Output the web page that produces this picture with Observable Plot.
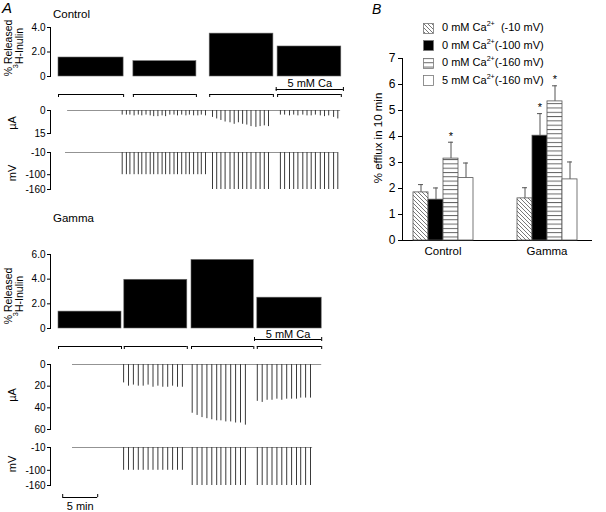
<!DOCTYPE html>
<html><head><meta charset="utf-8">
<script src="https://cdn.jsdelivr.net/npm/d3@7"></script>
<script src="https://cdn.jsdelivr.net/npm/@observablehq/plot@0.6"></script>
<style>
body{margin:0;background:#fff;font-family:"Liberation Sans",Arial,Helvetica,sans-serif;}
#chart{position:relative;width:606px;height:512px;overflow:hidden;background:#fff;}
.lbl{position:absolute;white-space:nowrap;line-height:1;color:#000;}
.rot{position:absolute;white-space:nowrap;text-align:center;line-height:1.05;color:#000;transform:translate(-50%,-50%) rotate(-90deg);}
sup{font-size:65%;vertical-align:super;line-height:0;}
</style></head><body>
<svg width="0" height="0" style="position:absolute"><defs>
<pattern id="hatch" patternUnits="userSpaceOnUse" width="4" height="4"><rect width="4" height="4" fill="#fff"/><path d="M-1,-1L5,5M3,-1L5,1M-1,3L1,5" stroke="#555" stroke-width="0.8"/></pattern>
<pattern id="hstripe" patternUnits="userSpaceOnUse" width="4" height="4.3"><rect width="4" height="4.3" fill="#fff"/><line x1="0" y1="0.5" x2="4" y2="0.5" stroke="#555" stroke-width="0.9"/></pattern>
</defs></svg>
<div id="chart"></div>
<script>
// ===== Panel A : Control (times in minutes) =====
const ctrlPeriodStart = [0, 10.7, 21.6, 31.3];
const ctrlPeriodEnd   = [9.3, 19.7, 30.7, 40.4];
const ctrlReleased    = [1.55, 1.25, 3.5, 2.45];
const ctrlCaSpan      = [31.1, 40.7];
const ctrlCurrentSpan = [1.3, 40.3];
const ctrlVoltageSpan = [1.0, 39.9];
const ctrlPulseTimes = [
  [9.1, 9.7, 10.2, 10.8, 11.4, 11.9, 12.5, 13.1, 13.6, 14.2, 14.8, 15.3, 15.9, 16.5, 17.0, 17.6, 18.2, 18.7, 19.3, 19.9, 20.4, 21.0],
  [22.0, 22.6, 23.2, 23.8, 24.5, 25.1, 25.7, 26.3, 26.9, 27.5, 28.2, 28.8, 29.4, 30.0],
  [31.7, 32.3, 33.0, 33.6, 34.2, 34.9, 35.5, 36.1, 36.7, 37.4, 38.0, 38.6, 39.3, 39.9]
];
const ctrlPulseCurrent = [
  [3, 3, 3, 3.5, 3, 3.5, 3, 3.5, 4, 4, 3.5, 4, 3, 3, 3.5, 3, 3.5, 3, 3.5, 3.5, 3, 3.5],
  [4.5, 5.5, 6.5, 7.5, 8, 9, 8, 9, 9.5, 10.5, 11, 10.5, 10, 10.5],
  [3, 3, 3.5, 3, 3.5, 3, 3.5, 3.5, 3, 3.5, 4, 3.5, 4.5, 5.5]
];

// ===== Panel A : Gamma =====
const gamPeriodStart = [0, 9.4, 19.0, 28.4];
const gamPeriodEnd   = [9.0, 18.4, 27.9, 37.6];
const gamReleased    = [1.37, 3.95, 5.56, 2.5];
const gamCaSpan      = [28.0, 37.6];
const gamCurrentSpan = [2.0, 37.6];
const gamVoltageSpan = [2.0, 36.3];
const gamPulseTimes = [
  [9.3, 10.0, 10.7, 11.4, 12.1, 12.8, 13.5, 14.2, 14.9, 15.6, 16.3, 17.0, 17.7],
  [19.1, 19.8, 20.5, 21.2, 21.9, 22.6, 23.2, 23.9, 24.6, 25.3, 26.0, 26.7],
  [28.4, 29.1, 29.8, 30.5, 31.2, 31.9, 32.6, 33.3, 34.0, 34.6, 35.3, 36.0]
];
const gamPulseCurrent = [
  [17, 20, 19, 20, 20, 19, 21, 20, 21, 21, 20, 21, 21],
  [45, 47, 49, 50, 51, 52, 52, 53, 53, 54, 54, 56],
  [34, 35, 33, 33, 32, 33, 32, 32, 32, 31, 31, 31]
];

const holdingMV = [-100, -160, -160];
const restingMV = -10;
const ctrlReleasedTicks = [0, 2, 4];
const gamReleasedTicks = [0, 2, 4, 6];
const ctrlCurrentTicks = [0, 15];
const gamCurrentTicks = [0, 20, 40, 60];
const voltageTicks = [-10, -100, -160];
const scaleBarStart = 0.6;
const scaleBarMinutes = 5;

// ===== Panel B =====
const groups = ["Control", "Gamma"];
const condCa = ["0 mM", "0 mM", "0 mM", "5 mM"];
const condMV = ["-10 mV", "-100 mV", "-160 mV", "-160 mV"];
const effluxControl = [1.85, 1.57, 3.15, 2.4];
const effluxGamma   = [1.62, 4.03, 5.35, 2.35];
const semControl = [0.30, 0.45, 0.63, 0.58];
const semGamma   = [0.41, 0.85, 0.60, 0.67];
const sigControl = [false, false, true, false];
const sigGamma   = [false, true, true, false];
const effluxTicks = [0, 1, 2, 3, 4, 5, 6, 7];

// ---------- build ----------
const W = 606, H = 512;
const FONT = '"Liberation Sans", Arial, Helvetica, sans-serif';
const fills = ["url(#hatch)", "#000", "url(#hstripe)", "#fff"];
const chart = document.getElementById("chart");
const svgStyle = fs => ({position: "absolute", left: "0px", top: "0px", background: "transparent",
  overflow: "visible", fontFamily: FONT, fontSize: fs + "px", color: "#000"});
const xTime = {domain: [0, 42], range: [58, 352], axis: null};

function strip(top, bottom, y, marks) {
  const p = Plot.plot({width: W, height: H, marginLeft: 50, marginRight: 254,
    marginTop: top, marginBottom: H - bottom, x: xTime, y, style: svgStyle(10), marks});
  chart.appendChild(p);
}
const periodsOf = (s, e, r) => s.map((v, i) => ({start: v, end: e[i], released: r[i]}));
const pulsesOf = (times, cur) => times.flatMap((ts, s) => ts.map((t, i) => ({t, current: cur[s][i], hold: holdingMV[s]})));
const zero = () => 0;
const fmt1 = d => d === 0 ? "0" : d.toFixed(1);

function releasedStrip(periods, caSpan, top, bottom, ticks, caTextDy, caDy) {
  strip(top, bottom, {domain: [0, ticks[ticks.length - 1]]}, [
    Plot.rectY(periods, {x1: "start", x2: "end", y: "released", fill: "#000", stroke: "#666", strokeWidth: 0.6}),
    Plot.frame({anchor: "left"}),
    Plot.axisY(ticks, {tickSize: 3, tickPadding: 2, tickFormat: fmt1, label: null}),
    Plot.ruleY(periods, {x1: "start", x2: "end", y: zero, dy: 18, strokeWidth: 1}),
    Plot.ruleX(periods, {x: "start", y1: zero, y2: zero, dy: 18, insetBottom: -3}),
    Plot.ruleX(periods, {x: "end", y1: zero, y2: zero, dy: 18, insetBottom: -3}),
    Plot.ruleY([caSpan], {x1: d => d[0], x2: d => d[1], y: zero, dy: caDy}),
    Plot.ruleX(caSpan, {x: d => d, y1: zero, y2: zero, dy: caDy, insetTop: -2, insetBottom: -2}),
    Plot.text([caSpan], {x: d => (d[0] + d[1]) / 2, y: zero, dy: caTextDy, text: () => "5 mM Ca", fontSize: 11})
  ]);
}
function currentStrip(pulses, span, top, bottom, ticks) {
  strip(top, bottom, {domain: [0, ticks[ticks.length - 1]], reverse: true}, [
    Plot.ruleY([span], {x1: d => d[0], x2: d => d[1], y: zero, stroke: "#777", strokeWidth: 0.8}),
    Plot.ruleX(pulses, {x: "t", y1: zero, y2: "current", stroke: "#3a3a3a", strokeWidth: 1}),
    Plot.frame({anchor: "left"}),
    Plot.axisY(ticks, {tickSize: 3, tickPadding: 2, tickFormat: d => String(d), label: null})
  ]);
}
function voltageStrip(pulses, span, top, bottom, extra = []) {
  strip(top, bottom, {domain: [-160, -10]}, [
    Plot.ruleY([span], {x1: d => d[0], x2: d => d[1], y: () => restingMV, stroke: "#777", strokeWidth: 0.8}),
    Plot.ruleX(pulses, {x: "t", y1: () => restingMV, y2: "hold", stroke: "#3a3a3a", strokeWidth: 1}),
    Plot.frame({anchor: "left"}),
    Plot.axisY(voltageTicks, {tickSize: 3, tickPadding: 2, tickFormat: d => String(d), label: null}),
    ...extra
  ]);
}

releasedStrip(periodsOf(ctrlPeriodStart, ctrlPeriodEnd, ctrlReleased), ctrlCaSpan, 27, 76, ctrlReleasedTicks, 7, 13);
currentStrip(pulsesOf(ctrlPulseTimes, ctrlPulseCurrent), ctrlCurrentSpan, 110, 133, ctrlCurrentTicks);
voltageStrip(pulsesOf(ctrlPulseTimes, ctrlPulseCurrent), ctrlVoltageSpan, 152, 189);

releasedStrip(periodsOf(gamPeriodStart, gamPeriodEnd, gamReleased), gamCaSpan, 254, 328, gamReleasedTicks, 6, 11);
currentStrip(pulsesOf(gamPulseTimes, gamPulseCurrent), gamCurrentSpan, 364, 429, gamCurrentTicks);
const bar = [{start: scaleBarStart, end: scaleBarStart + scaleBarMinutes}];
voltageStrip(pulsesOf(gamPulseTimes, gamPulseCurrent), gamVoltageSpan, 447, 485, [
  Plot.ruleY(bar, {x1: "start", x2: "end", y: () => -160, dy: 12}),
  Plot.ruleX(bar, {x: "start", y1: () => -160, y2: () => -160, dy: 12, insetTop: -3}),
  Plot.ruleX(bar, {x: "end", y1: () => -160, y2: () => -160, dy: 12, insetTop: -3}),
  Plot.text(bar, {x: d => (d.start + d.end) / 2, y: () => -160, dy: 21, text: () => scaleBarMinutes + " min", fontSize: 11})
]);

// Panel B axes
chart.appendChild(Plot.plot({width: W, height: H, marginLeft: 402, marginRight: 14, marginTop: 58, marginBottom: H - 240,
  y: {domain: [0, 7]}, style: svgStyle(12), marks: [
    Plot.frame({anchor: "left"}),
    Plot.ruleY([0]),
    Plot.axisY(effluxTicks, {tickSize: 4, tickPadding: 3, label: null})
  ]}));

// Panel B bars
const bData = [];
groups.forEach((g, gi) => {
  const v = gi === 0 ? effluxControl : effluxGamma, s = gi === 0 ? semControl : semGamma, sig = gi === 0 ? sigControl : sigGamma;
  condMV.forEach((mv, i) => bData.push({group: g, cond: i, value: v[i], top: v[i] + s[i], sig: sig[i]}));
});
chart.appendChild(Plot.plot({width: W, height: H, marginLeft: 402, marginRight: 18.5, marginTop: 58, marginBottom: H - 240,
  fx: {domain: groups, paddingInner: 0.416, paddingOuter: 0.0957, label: null},
  x: {domain: [0, 1, 2, 3], padding: 0, axis: null},
  y: {domain: [0, 7], axis: null},
  color: {type: "ordinal", domain: [0, 1, 2, 3], range: fills},
  style: svgStyle(11.5), marks: [
    Plot.ruleX(bData, {fx: "group", x: "cond", y1: "value", y2: "top", stroke: "#555", strokeWidth: 1}),
    Plot.tickY(bData, {fx: "group", x: "cond", y: "top", insetLeft: 5, insetRight: 5, stroke: "#555", strokeWidth: 1}),
    Plot.barY(bData, {fx: "group", x: "cond", y: "value", fill: "cond", stroke: "#555", strokeWidth: 0.8}),
    Plot.text(bData.filter(d => d.sig), {fx: "group", x: "cond", y: "top", text: () => "*", dy: -6, fontSize: 11}),
    Plot.axisFx({anchor: "bottom", tickSize: 0, tickPadding: 6, label: null})
  ]}));

// ---------- HTML text ----------
function lbl(html, x, y, fs, extra = "") {
  const d = document.createElement("div");
  d.className = "lbl"; d.innerHTML = html;
  d.style.cssText += `left:${x}px;top:${y}px;font-size:${fs}px;${extra}`;
  chart.appendChild(d);
}
function rot(html, cx, cy, fs) {
  const d = document.createElement("div");
  d.className = "rot"; d.innerHTML = html;
  d.style.cssText += `left:${cx}px;top:${cy}px;font-size:${fs}px;`;
  chart.appendChild(d);
}
lbl("A", 2, 0, 15, "font-style:italic;");
lbl("B", 372, 2, 14, "font-style:italic;");
lbl("Control", 53, 9, 11.5);
lbl("Gamma", 53, 213, 11.5);
rot("% Released<br><sup style='font-size:70%'>3</sup>H-Inulin", 14, 48, 10.5);
rot("% Released<br><sup style='font-size:70%'>3</sup>H-Inulin", 14, 296, 10.5);
rot("µA", 13, 123, 11);
rot("mV", 13, 173, 11);
rot("µA", 13, 395, 11);
rot("mV", 13, 464, 11);
rot("% efflux in 10 min", 378, 138, 11.5);

// legend
condMV.forEach((mv, i) => {
  const cy = 28 + i * 17.5;
  const s = document.createElementNS("http://www.w3.org/2000/svg", "svg");
  s.setAttribute("width", 11); s.setAttribute("height", 11);
  s.style.cssText = `position:absolute;left:423px;top:${cy - 5.5}px;`;
  s.innerHTML = `<rect x="0.5" y="0.5" width="10" height="10" fill="${fills[i]}" stroke="#777" stroke-width="0.8"/>`;
  chart.appendChild(s);
  lbl(`${condCa[i]} Ca<sup>2+</sup>${i === 0 ? "&nbsp; " : ""}(${mv})`, 442, cy - 6, 11);
});
</script>
</body></html>
